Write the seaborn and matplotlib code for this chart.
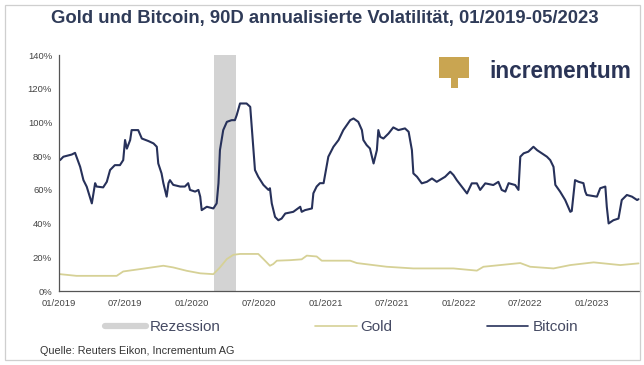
import pandas as pd
import seaborn as sns
import matplotlib.pyplot as plt
import matplotlib.dates as mdates
from matplotlib.lines import Line2D
from matplotlib.patches import Rectangle
from matplotlib.ticker import FuncFormatter

# 90D annualised volatility (%)
btc_dates = [
    "2019-01-04", "2019-01-13", "2019-02-05", "2019-02-14", "2019-02-28", "2019-03-09",
    "2019-03-18", "2019-04-01", "2019-04-10", "2019-04-14", "2019-05-02", "2019-05-12",
    "2019-05-21", "2019-06-03", "2019-06-17", "2019-06-26", "2019-07-01", "2019-07-06",
    "2019-07-15", "2019-07-19", "2019-08-06", "2019-08-16", "2019-09-03", "2019-09-17",
    "2019-09-26", "2019-09-30", "2019-10-09", "2019-10-14", "2019-10-23", "2019-10-28",
    "2019-11-01", "2019-11-10", "2019-11-29", "2019-12-12", "2019-12-21", "2019-12-26",
    "2020-01-09", "2020-01-18", "2020-01-23", "2020-01-27", "2020-02-10", "2020-02-28",
    "2020-03-08", "2020-03-13", "2020-03-17", "2020-03-26", "2020-04-05", "2020-04-18",
    "2020-04-27", "2020-05-02", "2020-05-11", "2020-05-29", "2020-06-08", "2020-06-17",
    "2020-06-21", "2020-06-30", "2020-07-14", "2020-07-28", "2020-08-01", "2020-08-06",
    "2020-08-15", "2020-08-24", "2020-09-02", "2020-09-12", "2020-10-04", "2020-10-23",
    "2020-10-27", "2020-11-05", "2020-11-24", "2020-11-28", "2020-12-07", "2020-12-16",
    "2020-12-26", "2021-01-08", "2021-01-22", "2021-02-05", "2021-02-18", "2021-03-09",
    "2021-03-18", "2021-03-31", "2021-04-10", "2021-04-14", "2021-04-23", "2021-05-02",
    "2021-05-12", "2021-05-21", "2021-05-25", "2021-05-30", "2021-06-08", "2021-06-22",
    "2021-07-05", "2021-07-19", "2021-08-06", "2021-08-16", "2021-08-25", "2021-08-29",
    "2021-09-08", "2021-09-21", "2021-10-05", "2021-10-19", "2021-11-01", "2021-11-24",
    "2021-12-08", "2021-12-17", "2021-12-26", "2022-01-09", "2022-01-23", "2022-02-05",
    "2022-02-19", "2022-02-28", "2022-03-14", "2022-04-05", "2022-04-19", "2022-04-28",
    "2022-05-08", "2022-05-17", "2022-06-04", "2022-06-13", "2022-06-18", "2022-06-27",
    "2022-07-10", "2022-07-24", "2022-08-03", "2022-08-16", "2022-08-30", "2022-09-08",
    "2022-09-17", "2022-09-22", "2022-10-05", "2022-10-19", "2022-11-02", "2022-11-06",
    "2022-11-15", "2022-11-25", "2022-12-08", "2022-12-13", "2022-12-17", "2023-01-14",
    "2023-01-23", "2023-02-06", "2023-02-10", "2023-02-15", "2023-02-28", "2023-03-14",
    "2023-03-23", "2023-04-06", "2023-04-20", "2023-05-04", "2023-05-08",
]
btc_vol = [
    77.7, 79.7, 81.0, 82.0, 73.7, 65.8,
    61.9, 52.0, 64.0, 62.0, 61.5, 64.8,
    71.8, 74.7, 74.7, 77.7, 89.6, 84.5,
    89.6, 95.5, 95.5, 90.5, 89.0, 87.6,
    85.6, 75.7, 69.8, 64.0, 56.0, 64.0,
    65.8, 63.0, 62.0, 62.0, 64.0, 60.0,
    59.0, 60.0, 56.0, 48.0, 50.0, 49.0,
    52.0, 64.0, 83.6, 95.5, 100.4, 101.4,
    101.4, 104.4, 111.3, 111.3, 109.3, 83.6,
    71.8, 67.8, 63.0, 60.0, 61.0, 52.0,
    44.0, 42.0, 43.0, 46.0, 47.0, 50.0,
    47.0, 48.0, 49.0, 58.0, 62.0, 64.0,
    64.0, 79.7, 85.6, 89.6, 95.5, 101.4,
    102.4, 100.4, 95.5, 89.6, 86.6, 84.6,
    75.7, 83.6, 95.5, 91.5, 90.5, 93.5,
    97.1, 95.5, 96.5, 94.5, 83.6, 69.8,
    67.8, 63.9, 64.8, 66.8, 64.8, 67.8,
    70.8, 68.8, 65.8, 61.9, 57.9, 63.9,
    63.9, 60.0, 63.9, 62.9, 64.8, 60.0,
    59.0, 64.0, 62.9, 60.0, 79.7, 81.7,
    82.7, 85.6, 83.6, 81.7, 79.7, 77.7,
    73.7, 63.0, 59.0, 54.0, 47.0, 47.5,
    65.8, 64.8, 64.0, 59.0, 57.0, 56.0,
    61.0, 62.0, 50.0, 40.1, 42.0, 43.0,
    54.0, 57.0, 56.0, 54.0, 54.5,
]

gold_dates = [
    "2019-01-04", "2019-02-18", "2019-06-08", "2019-06-26", "2019-08-11", "2019-10-14",
    "2019-11-10", "2019-12-17", "2020-01-23", "2020-02-28", "2020-03-17", "2020-04-05",
    "2020-04-23", "2020-05-11", "2020-06-30", "2020-07-14", "2020-08-01", "2020-08-10",
    "2020-08-20", "2020-09-25", "2020-10-27", "2020-11-10", "2020-12-07", "2020-12-21",
    "2021-01-22", "2021-03-09", "2021-03-27", "2021-06-17", "2021-08-29", "2021-12-17",
    "2022-02-19", "2022-03-09", "2022-06-18", "2022-07-15", "2022-09-17", "2022-11-02",
    "2023-01-05", "2023-03-19", "2023-05-08",
]
gold_vol = [
    10.0, 9.0, 9.0, 11.6, 13.0, 15.0,
    14.0, 12.0, 10.5, 10.0, 14.0, 19.0,
    21.5, 22.0, 22.0, 19.0, 15.0, 16.0,
    18.0, 18.3, 18.8, 21.0, 20.5, 18.0,
    18.0, 18.0, 16.6, 14.4, 13.4, 13.4,
    12.1, 14.4, 16.6, 14.4, 13.4, 15.4,
    17.0, 15.4, 16.4,
]

recession = ("2020-03-01", "2020-04-30")
tick_dates = ["2019-01-01", "2019-07-01", "2020-01-01", "2020-07-01", "2021-01-01",
              "2021-07-01", "2022-01-01", "2022-07-01", "2023-01-01"]

btc = pd.DataFrame({"Datum": pd.to_datetime(btc_dates), "Vol": btc_vol})
gold = pd.DataFrame({"Datum": pd.to_datetime(gold_dates), "Vol": gold_vol})

sns.set_theme(style="white")
plt.rcParams["font.family"] = ["Liberation Sans", "DejaVu Sans"]

navy = "#27315a"
gold_col = "#d6d196"
grey_band = "#d3d3d3"
txt = "#454a63"

fig = plt.figure(figsize=(6.44, 3.65), dpi=100)
ax = fig.add_axes([0.0916, 0.2027, 0.9022, 0.6463])

ax.axvspan(pd.Timestamp(recession[0]), pd.Timestamp(recession[1]), color=grey_band, lw=0, zorder=0)
sns.lineplot(data=gold, x="Datum", y="Vol", ax=ax, color=gold_col, lw=1.3)
sns.lineplot(data=btc, x="Datum", y="Vol", ax=ax, color=navy, lw=1.5)

ax.set_xlim(pd.Timestamp("2019-01-01"), pd.Timestamp("2023-05-12"))
ax.set_ylim(0, 140)
ax.set_yticks(range(0, 141, 20))
ax.yaxis.set_major_formatter(FuncFormatter(lambda v, p: f"{v:.0f}%"))
ax.set_xticks(pd.to_datetime(tick_dates))
ax.xaxis.set_major_formatter(mdates.DateFormatter("%m/%Y"))
ax.set_xlabel("")
ax.set_ylabel("")
ax.tick_params(axis="both", labelsize=6.8, colors="#444444", length=3, width=0.8, pad=2)
ax.tick_params(axis="x", pad=3)
for side in ["top", "right"]:
    ax.spines[side].set_visible(False)
for side in ["left", "bottom"]:
    ax.spines[side].set_color("#555555")
    ax.spines[side].set_linewidth(0.9)

fig.text(0.505, 0.948, "Gold und Bitcoin, 90D annualisierte Volatilität, 01/2019-05/2023",
         ha="center", va="center", fontsize=13.3, fontweight="bold", color="#2f3b58")

# logo
fig.patches.append(Rectangle((439 / 644, 1 - 78 / 365), 30 / 644, 21 / 365,
                             transform=fig.transFigure, color="#c9a551", lw=0))
fig.patches.append(Rectangle((451 / 644, 1 - 88 / 365), 7 / 644, 11 / 365,
                             transform=fig.transFigure, color="#c9a551", lw=0))
fig.text(489 / 644, 1 - 72 / 365, "incrementum", ha="left", va="center",
         fontsize=16.3, fontweight="bold", color="#2a3456")

handles = [Line2D([], [], color=grey_band, lw=4.5),
           Line2D([], [], color=gold_col, lw=1.2),
           Line2D([], [], color=navy, lw=1.2)]
fig.legend(handles, ["Rezession", "Gold", "Bitcoin"], loc="center", bbox_to_anchor=(0.53, 0.103),
           ncol=3, frameon=False, fontsize=11, handlelength=2.7, handletextpad=0.25,
           columnspacing=6.2, labelcolor=txt)

fig.text(40 / 644, 1 - 351 / 365, "Quelle: Reuters Eikon, Incrementum AG", ha="left", va="center",
         fontsize=7.8, color="#333333")

fig.patches.append(Rectangle((5 / 644, 5 / 365), 635 / 644, 355 / 365, transform=fig.transFigure,
                             fill=False, edgecolor="#cfcfcf", lw=0.9))

fig.savefig("out.png", dpi=100)
